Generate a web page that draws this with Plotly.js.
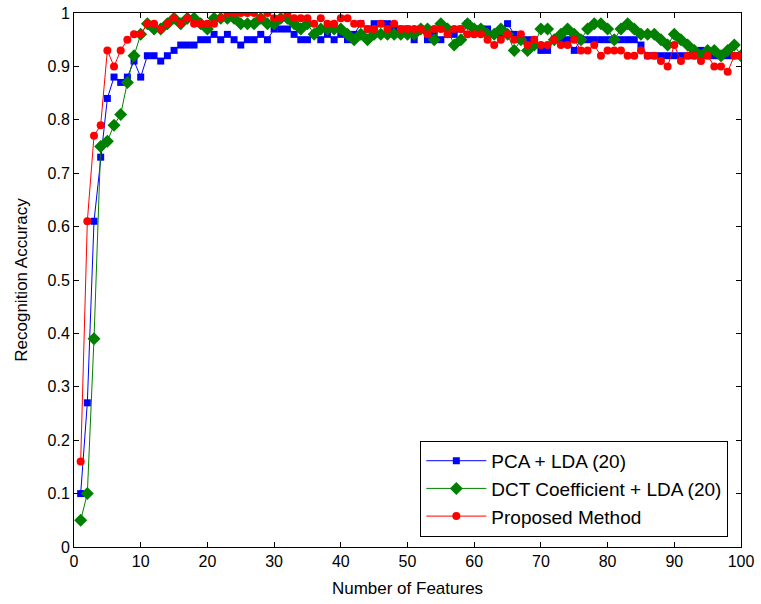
<!DOCTYPE html>
<html>
<head>
<meta charset="utf-8">
<script src="https://cdn.plot.ly/plotly-3.0.1.min.js"></script>
<style>html,body{margin:0;padding:0;background:#fff;}#chart{width:761px;height:604px;}</style>
</head>
<body>
<div id="chart"></div>
<script>
var features = [];
for (var i = 1; i <= 100; i++) features.push(i);

var pcaLda = [0.10,0.27,0.61,0.73,0.84,0.88,0.87,0.88,0.91,0.88,
0.92,0.92,0.91,0.92,0.93,0.94,0.94,0.94,0.95,0.95,
0.96,0.95,0.96,0.95,0.94,0.95,0.95,0.96,0.95,0.97,
0.97,0.97,0.96,0.95,0.95,0.96,0.95,0.96,0.95,0.96,
0.95,0.96,0.98,0.97,0.98,0.98,0.98,0.97,0.97,0.97,
0.95,0.97,0.95,0.96,0.95,0.96,0.96,0.97,0.98,0.97,
0.97,0.97,0.96,0.96,0.98,0.96,0.95,0.95,0.95,0.93,
0.93,0.95,0.95,0.95,0.93,0.95,0.95,0.95,0.95,0.95,
0.95,0.95,0.95,0.95,0.94,0.92,0.92,0.92,0.92,0.92,
0.92,0.92,0.92,0.93,0.92,0.92,0.92,0.92,0.92,0.92];

var dctLda = [0.05,0.10,0.39,0.75,0.76,0.79,0.81,0.87,0.92,0.96,
0.98,0.97,0.97,0.98,0.99,0.98,0.99,0.99,0.98,0.97,
0.99,0.99,0.99,0.99,0.98,0.98,0.98,0.99,0.98,0.98,
0.99,0.99,0.98,0.97,0.98,0.96,0.97,0.97,0.97,0.97,
0.96,0.95,0.96,0.95,0.96,0.96,0.96,0.96,0.96,0.96,
0.96,0.97,0.97,0.95,0.98,0.97,0.94,0.95,0.98,0.97,
0.97,0.96,0.96,0.97,0.96,0.93,0.95,0.93,0.94,0.97,
0.97,0.95,0.96,0.97,0.96,0.95,0.97,0.98,0.98,0.97,
0.95,0.97,0.98,0.97,0.96,0.96,0.96,0.95,0.94,0.96,
0.95,0.94,0.93,0.92,0.93,0.93,0.92,0.93,0.94,0.92];

var proposed = [0.16,0.61,0.77,0.79,0.93,0.90,0.93,0.95,0.96,0.96,
0.98,0.98,0.97,0.98,0.99,0.98,0.99,0.98,0.98,0.98,
0.98,0.99,1.00,1.00,1.00,1.00,1.00,0.99,1.00,0.99,
0.99,1.00,0.99,0.99,0.99,0.98,0.99,0.98,0.98,0.99,
0.99,0.98,0.98,0.97,0.97,0.98,0.97,0.98,0.97,0.97,
0.97,0.97,0.96,0.97,0.97,0.96,0.97,0.97,0.96,0.96,
0.96,0.95,0.94,0.95,0.96,0.95,0.96,0.94,0.95,0.94,
0.94,0.95,0.94,0.94,0.95,0.93,0.93,0.94,0.92,0.93,
0.93,0.93,0.92,0.92,0.93,0.92,0.92,0.91,0.90,0.94,
0.91,0.92,0.92,0.91,0.92,0.90,0.90,0.89,0.92,0.92];

var xTicks = [0,10,20,30,40,50,60,70,80,90,100];
var yTicks = [0,0.1,0.2,0.3,0.4,0.5,0.6,0.7,0.8,0.9,1];
var yTickText = ['0','0.1','0.2','0.3','0.4','0.5','0.6','0.7','0.8','0.9','1'];

var FONT = 'Liberation Sans, Arial, sans-serif';

var traces = [
  {x: features, y: pcaLda, name: 'PCA + LDA (20)', type: 'scatter', mode: 'lines+markers',
   line: {color: '#0000ff', width: 1}, marker: {symbol: 'square', size: 7, color: '#0000ff'}},
  {x: features, y: dctLda, name: 'DCT Coefficient + LDA (20)', type: 'scatter', mode: 'lines+markers',
   line: {color: '#008000', width: 1}, marker: {symbol: 'diamond', size: 10, color: '#008000'}},
  {x: features, y: proposed, name: 'Proposed Method', type: 'scatter', mode: 'lines+markers',
   line: {color: '#ff0000', width: 1}, marker: {symbol: 'circle', size: 8, color: '#ff0000'}}
];

var axisCommon = {
  showgrid: false, zeroline: false, showline: true, linecolor: '#000', linewidth: 1,
  mirror: 'ticks', ticks: 'inside', ticklen: 5, tickcolor: '#000',
  tickfont: {family: FONT, size: 16, color: '#000'}
};

var layout = {
  width: 761, height: 604,
  margin: {l: 74, r: 20, t: 13, b: 57},
  paper_bgcolor: '#fff', plot_bgcolor: '#fff',
  showlegend: true,
  legend: {x: 0.981, y: 0.019, xanchor: 'right', yanchor: 'bottom',
    bordercolor: '#000', borderwidth: 1, bgcolor: '#fff',
    font: {family: FONT, size: 19, color: '#000'},
    tracegroupgap: 0, itemwidth: 60},
  xaxis: Object.assign({}, axisCommon, {range: [0, 100], tickvals: xTicks,
    title: {text: 'Number of Features', font: {family: FONT, size: 17, color: '#000'}, standoff: 12}}),
  yaxis: Object.assign({}, axisCommon, {range: [0, 1], tickvals: yTicks, ticktext: yTickText,
    title: {text: 'Recognition Accuracy', font: {family: FONT, size: 17, color: '#000'}, standoff: 15}})
};

Plotly.newPlot('chart', traces, layout, {displayModeBar: false, staticPlot: true});
</script>
</body>
</html>
